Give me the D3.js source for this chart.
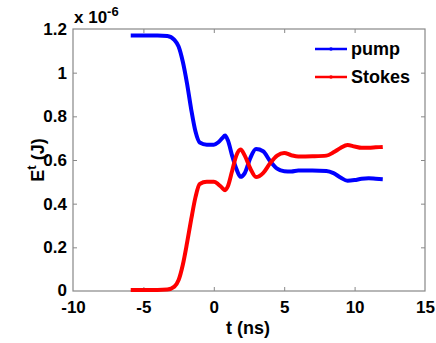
<!DOCTYPE html>
<html><head><meta charset="utf-8">
<script src="https://cdn.jsdelivr.net/npm/d3@7"></script>
<style>body{margin:0;background:#fff}svg{display:block}text{font-family:"Liberation Sans",Arial,sans-serif;font-weight:bold;fill:#000}</style>
</head><body>
<svg id="c" width="436" height="343"></svg>
<script>
const xTicks = [-10, -5, 0, 5, 10, 15];
const yTicks = [0, 0.2, 0.4, 0.6, 0.8, 1, 1.2];
const seriesNames = ["pump", "Stokes"];
const seriesColors = ["#0000ff", "#ff0000"];
const tData = [-5.9,-4,-3.3,-2.8,-2.5,-2.2,-1.9,-1.6,-1.3,-1.0,-0.5,0,0.3,0.6,0.8,1.0,1.3,1.6,1.9,2.2,2.6,3.0,3.5,4.0,4.5,5.0,5.5,6.0,7.0,8.0,8.5,9.0,9.5,10,10.5,11,11.5,12];
const pump = [1.17,1.17,1.168,1.15,1.12,1.05,0.95,0.83,0.73,0.68,0.67,0.67,0.68,0.70,0.712,0.69,0.62,0.56,0.523,0.54,0.61,0.65,0.64,0.595,0.56,0.548,0.547,0.552,0.552,0.55,0.54,0.52,0.505,0.508,0.514,0.516,0.514,0.512];
const stokes = [0.005,0.005,0.007,0.02,0.05,0.12,0.22,0.33,0.43,0.49,0.50,0.50,0.49,0.472,0.462,0.48,0.55,0.62,0.648,0.62,0.56,0.522,0.54,0.585,0.62,0.632,0.622,0.616,0.617,0.62,0.635,0.655,0.669,0.662,0.656,0.656,0.658,0.66];

const svg = d3.select("#c");
const L = 73, R = 425, T = 29, B = 291;
const x = d3.scaleLinear().domain([-10, 15]).range([L, R]);
const y = d3.scaleLinear().domain([0, 1.2]).range([B, T]);
const axisColor = "#888";
const FS = 17;

svg.append("rect").attr("x", L).attr("y", T).attr("width", R - L).attr("height", B - T)
  .attr("fill", "none").attr("stroke", axisColor).attr("stroke-width", 1.2);

const gx = svg.append("g").attr("transform", `translate(0,${B})`)
  .call(d3.axisBottom(x).tickValues(xTicks).tickSize(-4).tickPadding(10).tickFormat(d => String(d)));
const gxt = svg.append("g").attr("transform", `translate(0,${T})`)
  .call(d3.axisTop(x).tickValues(xTicks).tickSize(-4).tickFormat(""));
const gy = svg.append("g").attr("transform", `translate(${L},0)`)
  .call(d3.axisLeft(y).tickValues(yTicks).tickSize(-4).tickPadding(6).tickFormat(d => d === 0 || d === 1 ? String(d) : d3.format(".1f")(d)));
const gyr = svg.append("g").attr("transform", `translate(${R},0)`)
  .call(d3.axisRight(y).tickValues(yTicks).tickSize(-4).tickFormat(""));
[gx, gxt, gy, gyr].forEach(g => {
  g.select(".domain").remove();
  g.selectAll("line").attr("stroke", axisColor);
  g.selectAll("text").attr("font-size", FS).attr("font-family", "Liberation Sans, Arial, sans-serif").attr("font-weight", "bold").attr("fill", "#000");
});
gx.selectAll(".tick").filter(d => d === -10 || d === 15).select("line").remove();
gxt.selectAll(".tick").filter(d => d === -10 || d === 15).select("line").remove();
gy.selectAll(".tick").filter(d => d === 0 || d === 1.2).select("line").remove();
gyr.selectAll(".tick").filter(d => d === 0 || d === 1.2).select("line").remove();
gy.selectAll(".tick").filter(d => d === 0).select("text").attr("dy", "0.25em");

const ex = svg.append("text").attr("x", L + 1).attr("y", 23).attr("font-size", FS);
ex.append("tspan").text("x 10");
ex.append("tspan").attr("dy", -7).attr("font-size", 13).text("-6");

svg.append("text").attr("x", 248).attr("y", 334).attr("text-anchor", "middle").attr("font-size", 18).text("t (ns)");
const yl = svg.append("text").attr("transform", "translate(44,160) rotate(-90)").attr("text-anchor", "middle").attr("font-size", 18);
yl.append("tspan").text("E");
yl.append("tspan").attr("dy", -8).attr("font-size", 13).text("t");
yl.append("tspan").attr("dy", 8).text(" (J)");

const line = d3.line().x((d, i) => x(tData[i])).y(d => y(d)).curve(d3.curveMonotoneX);
[pump, stokes].forEach((s, k) => {
  svg.append("path").datum(s).attr("d", line).attr("fill", "none")
    .attr("stroke", seriesColors[k]).attr("stroke-width", 4).attr("stroke-linejoin", "round");
});

seriesNames.forEach((n, k) => {
  const yy = 49 + k * 28;
  svg.append("line").attr("x1", 315).attr("x2", 347).attr("y1", yy).attr("y2", yy)
    .attr("stroke", seriesColors[k]).attr("stroke-width", 2.5);
  svg.append("circle").attr("cx", 331).attr("cy", yy).attr("r", 1.8).attr("fill", seriesColors[k]);
  svg.append("text").attr("x", 351).attr("y", yy + 6).attr("font-size", 18).text(n);
});
</script>
</body></html>
